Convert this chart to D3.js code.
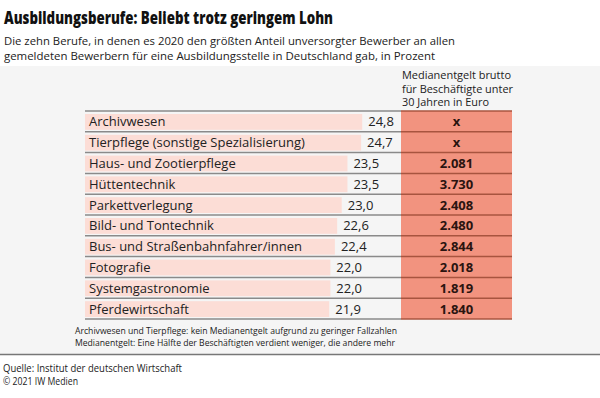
<!DOCTYPE html>
<html>
<head>
<meta charset="utf-8">
<script src="https://cdn.jsdelivr.net/npm/d3@7"></script>
<style>
  body { margin: 0; background: #fff; }
  svg { display: block; font-family: "Open Sans", sans-serif; }
</style>
</head>
<body>
<div id="chart"></div>
<script>
// Data
var berufe = [
    "Archivwesen",
    "Tierpflege (sonstige Spezialisierung)",
    "Haus- und Zootierpflege",
    "Hüttentechnik",
    "Parkettverlegung",
    "Bild- und Tontechnik",
    "Bus- und Straßenbahnfahrer/innen",
    "Fotografie",
    "Systemgastronomie",
    "Pferdewirtschaft"
];
var anteil = [24.8, 24.7, 23.5, 23.5, 23.0, 22.6, 22.4, 22.0, 22.0, 21.9];
// null = kein Medianentgelt (x)
var entgelt = [null, null, 2081, 3730, 2408, 2480, 2844, 2018, 1819, 1840];

var titel = "Ausbildungsberufe: Beliebt trotz geringem Lohn";
var untertitel = [
    "Die zehn Berufe, in denen es 2020 den größten Anteil unversorgter Bewerber an allen",
    "gemeldeten Bewerbern für eine Ausbildungsstelle in Deutschland gab, in Prozent"
];
var spaltenKopf = ["Medianentgelt brutto", "für Beschäftigte unter", "30 Jahren in Euro"];
var fussnoten = [
    "Archivwesen und Tierpflege: kein Medianentgelt aufgrund zu geringer Fallzahlen",
    "Medianentgelt: Eine Hälfte der Beschäftigten verdient weniger, die andere mehr"
];
var quelle = ["Quelle: Institut der deutschen Wirtschaft", "© 2021 IW Medien"];

var de = d3.formatLocale({ decimal: ",", thousands: ".", grouping: [3], currency: ["", " €"] });
var fmtAnteil = de.format(".1f");
var fmtEuro = de.format(",d");

var rows = berufe.map(function(b, i) {
    return { beruf: b, anteil: anteil[i], entgelt: entgelt[i] };
});

var width = 600, height = 398;

var svg = d3.select("#chart")
    .append("svg")
    .attr("width", width)
    .attr("height", height);

svg.append("rect")
    .attr("width", width)
    .attr("height", height)
    .attr("fill", "#fff");

// grey panel behind the table
svg.append("rect")
    .attr("x", 0)
    .attr("y", 66)
    .attr("width", width)
    .attr("height", 288)
    .attr("fill", "#f5f5f5");

svg.append("line")
    .attr("x1", 0).attr("x2", width)
    .attr("y1", 354.5).attr("y2", 354.5)
    .attr("stroke", "#777")
    .attr("stroke-width", 1.5);

// squeeze a text to the width it has in the original (font there is narrower)
function fitWidth(sel, widths) {
    sel.attr("textLength", function(d, i) { return widths[i]; })
        .attr("lengthAdjust", "spacingAndGlyphs");
}

// Title + subtitle
svg.append("text")
    .attr("x", 4).attr("y", 24)
    .attr("font-size", 17)
    .attr("font-weight", 800)
    .attr("fill", "#111")
    .attr("textLength", 329)
    .attr("lengthAdjust", "spacingAndGlyphs")
    .text(titel);

svg.selectAll(".sub")
    .data(untertitel)
    .enter()
    .append("text")
    .attr("class", "sub")
    .attr("x", 4)
    .attr("y", function(d, i) { return 44.5 + i * 15.5; })
    .attr("font-size", 11.5)
    .attr("fill", "#222")
    .text(function(d) { return d; })
    .call(fitWidth, [451, 431]);

// Scales
var left = 85, colX = 401, colW = 111;
var y = d3.scaleBand()
    .domain(berufe)
    .range([111, 319])
    .padding(0);

var x = d3.scaleLinear()
    .domain([0, 25])
    .range([80, 80 + 25 * 11.38]);

// column header
svg.selectAll(".kopf")
    .data(spaltenKopf)
    .enter()
    .append("text")
    .attr("class", "kopf")
    .attr("x", colX + 1)
    .attr("y", function(d, i) { return 79 + i * 13.5; })
    .attr("font-size", 10.8)
    .attr("fill", "#222")
    .text(function(d) { return d; })
    .call(fitWidth, [109, 111, 87]);

// salmon column
svg.append("rect")
    .attr("x", colX)
    .attr("y", y.range()[0])
    .attr("width", colW)
    .attr("height", y.range()[1] - y.range()[0])
    .attr("fill", "#f2937f");

var row = svg.selectAll(".row")
    .data(rows)
    .enter()
    .append("g")
    .attr("class", "row")
    .attr("transform", function(d) { return "translate(0," + y(d.beruf) + ")"; });

// pink bars
row.append("rect")
    .attr("x", left)
    .attr("y", 3)
    .attr("width", function(d) { return x(d.anteil) - left; })
    .attr("height", y.bandwidth() - 5)
    .attr("fill", "#fcddd6");

row.append("text")
    .attr("x", left + 4)
    .attr("y", y.bandwidth() / 2 + 5)
    .attr("font-size", 13)
    .attr("fill", "#222")
    .text(function(d) { return d.beruf; });

row.append("text")
    .attr("x", function(d) { return x(d.anteil) + 6; })
    .attr("y", y.bandwidth() / 2 + 5)
    .attr("font-size", 13)
    .attr("fill", "#222")
    .text(function(d) { return fmtAnteil(d.anteil); });

row.append("text")
    .attr("x", colX + colW / 2)
    .attr("y", y.bandwidth() / 2 + 5)
    .attr("text-anchor", "middle")
    .attr("font-size", 13)
    .attr("font-weight", 700)
    .attr("fill", "#2a1410")
    .text(function(d) { return d.entgelt == null ? "x" : fmtEuro(d.entgelt); });

// row separators
var linien = d3.range(berufe.length + 1).map(function(i) {
    return i < berufe.length ? y(berufe[i]) : y.range()[1];
});

svg.selectAll(".sep")
    .data(linien)
    .enter()
    .append("line")
    .attr("class", "sep")
    .attr("x1", left).attr("x2", colX)
    .attr("y1", function(d) { return d; })
    .attr("y2", function(d) { return d; })
    .attr("stroke", "#8a8a8a")
    .attr("stroke-width", 1.5);

svg.selectAll(".sepcol")
    .data(linien)
    .enter()
    .append("line")
    .attr("class", "sepcol")
    .attr("x1", colX).attr("x2", colX + colW)
    .attr("y1", function(d) { return d; })
    .attr("y2", function(d) { return d; })
    .attr("stroke", "#a8543f")
    .attr("stroke-width", 1.5);

// footnotes
svg.selectAll(".fuss")
    .data(fussnoten)
    .enter()
    .append("text")
    .attr("class", "fuss")
    .attr("x", 75)
    .attr("y", function(d, i) { return 334 + i * 12; })
    .attr("font-size", 9.5)
    .attr("fill", "#222")
    .text(function(d) { return d; })
    .call(fitWidth, [322, 320]);

// source
svg.selectAll(".quelle")
    .data(quelle)
    .enter()
    .append("text")
    .attr("class", "quelle")
    .attr("x", 3)
    .attr("y", function(d, i) { return 372 + i * 13; })
    .attr("font-size", 10.5)
    .attr("fill", "#222")
    .text(function(d) { return d; })
    .call(fitWidth, [179, 75]);
</script>
</body>
</html>
